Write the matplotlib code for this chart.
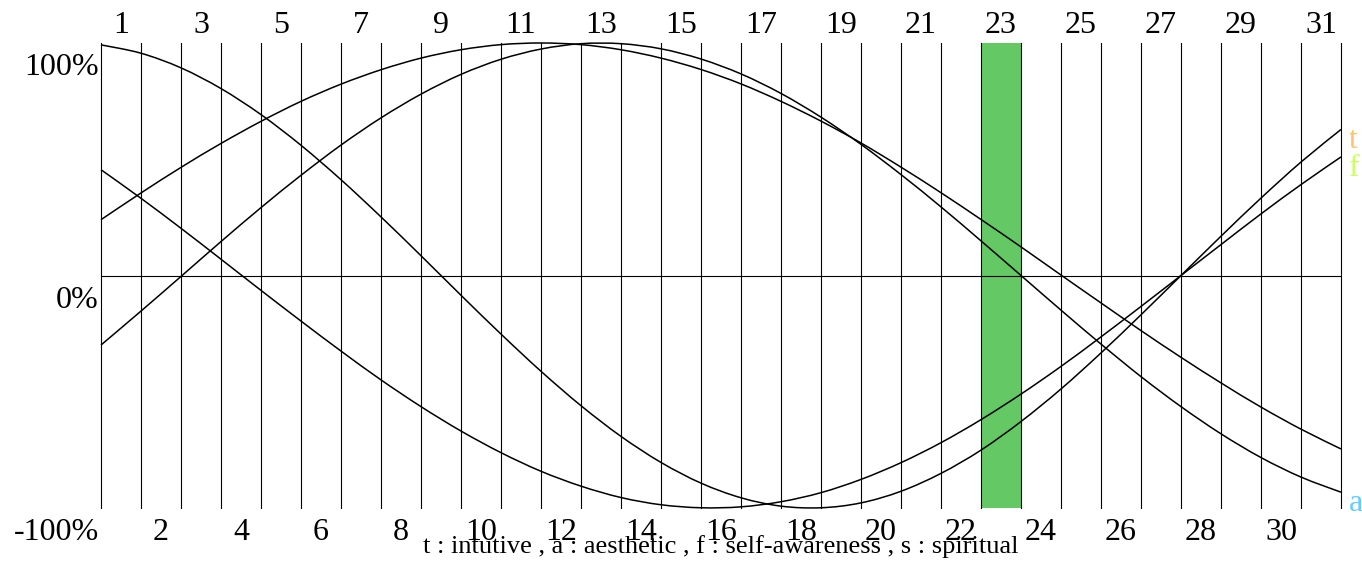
import matplotlib
matplotlib.use("Agg")
import matplotlib.pyplot as plt
import matplotlib.transforms as mtransforms
from matplotlib.path import Path
from matplotlib.patches import PathPatch

plt.rcParams["font.family"] = ["Liberation Serif", "DejaVu Serif"]

# one value per vertical grid line (left edge of day 1 ... right edge of day 31)
steps = list(range(32))
intuitive = [0.992, 0.956, 0.893, 0.804, 0.692, 0.560, 0.412, 0.252, 0.085, -0.085,
             -0.252, -0.412, -0.560, -0.692, -0.804, -0.893, -0.956, -0.992, -0.999, -0.978,
             -0.928, -0.851, -0.751, -0.628, -0.488, -0.333, -0.169, 0.000, 0.169, 0.333,
             0.488, 0.628]
aesthetic = [-0.299, -0.153, -0.004, 0.146, 0.292, 0.431, 0.561, 0.678, 0.780, 0.865,
             0.930, 0.974, 0.997, 0.997, 0.975, 0.931, 0.867, 0.783, 0.681, 0.564,
             0.434, 0.295, 0.149, 0.000, -0.149, -0.295, -0.435, -0.564, -0.681, -0.783,
             -0.867, -0.932]
self_awareness = [0.455, 0.332, 0.203, 0.070, -0.064, -0.196, -0.325, -0.449, -0.564, -0.669,
                  -0.762, -0.842, -0.906, -0.955, -0.986, -0.999, -0.995, -0.973, -0.934, -0.877,
                  -0.805, -0.719, -0.620, -0.510, -0.391, -0.264, -0.133, 0.000, 0.133, 0.265,
                  0.391, 0.510]
spiritual = [0.240, 0.355, 0.465, 0.568, 0.663, 0.749, 0.823, 0.885, 0.935, 0.971,
             0.993, 1.000, 0.993, 0.971, 0.935, 0.886, 0.824, 0.749, 0.664, 0.570,
             0.466, 0.356, 0.241, 0.123, 0.002, -0.118, -0.237, -0.352, -0.462, -0.566,
             -0.661, -0.746]

odd_days = [1, 3, 5, 7, 9, 11, 13, 15, 17, 19, 21, 23, 25, 27, 29, 31]
even_days = [2, 4, 6, 8, 10, 12, 14, 16, 18, 20, 22, 24, 26, 28, 30]
today = 23

y_ticks = [1.0, 0.0, -1.0]
y_labels = ["100%", "0%", "-100%"]
legend_text = "t : intutive , a : aesthetic , f : self-awareness , s : spiritual"

end_labels = ["t", "f", "a"]
end_series = [intuitive, self_awareness, aesthetic]
end_colors = {"t": "#ffc266", "f": "#ccff66", "a": "#66ccff"}


def smooth_path(xs, ys):
    """Bezier path through the points (Catmull-Rom control points)."""
    pts = list(zip(xs, ys))
    n = len(pts)
    verts = [pts[0]]
    codes = [Path.MOVETO]
    for i in range(n - 1):
        p0 = pts[max(i - 1, 0)]
        p1 = pts[i]
        p2 = pts[i + 1]
        p3 = pts[min(i + 2, n - 1)]
        c1 = (p1[0] + (p2[0] - p0[0]) / 6, p1[1] + (p2[1] - p0[1]) / 6)
        c2 = (p2[0] - (p3[0] - p1[0]) / 6, p2[1] - (p3[1] - p1[1]) / 6)
        verts += [c1, c2, p2]
        codes += [Path.CURVE4] * 3
    return Path(verts, codes)


W, H = 1362, 566
fig = plt.figure(figsize=(W / 100, H / 100), dpi=100)
ax = fig.add_axes([101 / W, 58 / H, 1240 / W, 465 / H])
ax.set_xlim(0, 31)
ax.set_ylim(-1, 1)
ax.axis("off")

# highlighted day
ax.axvspan(today - 1, today, color="#64c864", lw=0, zorder=0)

for k in steps:
    ax.axvline(k, color="black", lw=0.8, clip_on=False, zorder=1)
ax.axhline(0, color="black", lw=0.8, zorder=1)

for series in (intuitive, aesthetic, self_awareness, spiritual):
    ax.add_patch(PathPatch(smooth_path(steps, series), fill=False, edgecolor="black",
                           lw=1.1, clip_on=False, zorder=2))

xa = mtransforms.blended_transform_factory(ax.transData, ax.transAxes)
fs = 23

top_tr = mtransforms.offset_copy(xa, fig=fig, x=0, y=10, units="dots")
for d in odd_days:
    ax.text(d - 0.5, 1, str(d), transform=top_tr, ha="center", va="baseline", fontsize=fs)

bot_tr = mtransforms.offset_copy(xa, fig=fig, x=0, y=-32, units="dots")
for d in even_days:
    ax.text(d - 0.5, 0, str(d), transform=bot_tr, ha="center", va="baseline", fontsize=fs)

ya = mtransforms.blended_transform_factory(ax.transAxes, ax.transData)
ylab_tr = mtransforms.offset_copy(ya, fig=fig, x=-2, y=-32, units="dots")
for v, lab in zip(y_ticks, y_labels):
    ax.text(0, v, lab, transform=ylab_tr, ha="right", va="baseline", fontsize=fs)

end_tr = mtransforms.offset_copy(ax.transData, fig=fig, x=8, y=-19, units="dots")
for lab, series in zip(end_labels, end_series):
    ax.text(steps[-1], series[-1], lab, transform=end_tr, ha="left", va="baseline",
            fontsize=fs, color=end_colors[lab])

leg_tr = mtransforms.offset_copy(ax.transAxes, fig=fig, x=0, y=-45, units="dots")
ax.text(0.5, 0, legend_text, transform=leg_tr, ha="center", va="baseline", fontsize=19)

fig.savefig("out.png", dpi=100)
